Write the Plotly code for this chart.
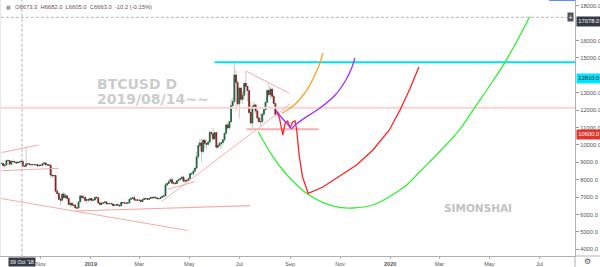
import plotly.graph_objects as go
import pandas as pd

# ---------------- candle data (2-day candles, values in chart-axis units) ----------------
candle_dates = pd.date_range('2018-09-12', periods=169, freq='2D')
first_open = 8764
close = [8930, 8938, 8810, 8850, 9100, 9100, 8890, 9050, 9040, 9010,
         8960, 9010, 9017, 9065, 8780, 8770, 8910, 8920, 8875, 8860,
         8870, 8860, 8860, 8800, 8835, 8825, 8920, 8960, 8845, 8860,
         8830, 8265, 8225, 8240, 7342, 7200, 6870, 6820, 7175, 6970,
         7075, 6925, 6570, 6647, 6530, 6550, 6380, 6370, 6725, 7065,
         6965, 6995, 6805, 6860, 6830, 6915, 6815, 6835, 6985, 6963,
         6670, 6570, 6647, 6680, 6725, 6615, 6625, 6625, 6610, 6515,
         6535, 6568, 6535, 6495, 6695, 6665, 6665, 6650, 6665, 6870,
         6930, 6963, 6835, 6830, 6830, 6820, 6740, 6860, 6925, 6900,
         6870, 6915, 6985, 6955, 6995, 6955, 6910, 6915, 6980, 7042,
         7075, 7700, 7775, 7895, 8000, 7800, 7815, 7775, 7940, 8005,
         8060, 8148, 7910, 7965, 7935, 8070, 8345, 8345, 8495, 8670,
         9317, 9965, 10115, 9617, 10273, 10090, 10028, 10163, 10715, 10645,
         10345, 10708, 9870, 9965, 10083, 10130, 10297, 10668, 11150, 10976,
         11330, 12256, 12493, 14018, 13599, 12360, 13268, 12620, 12850, 13536,
         13362, 13125, 11861, 11253, 12201, 12296, 11956, 11545, 11340, 11332,
         11766, 12019, 12454, 13125, 12888, 13204, 12793, 12382, 11743]
high = [8980, 9017, 8960, 8920, 9150, 9175, 9017, 9096, 9175, 9065,
        9017, 9050, 9050, 9096, 9065, 8810, 9886, 8960, 8940, 8890,
        8900, 8905, 8880, 8860, 8850, 8875, 8940, 9017, 9000, 8890,
        8890, 8845, 8320, 8265, 8243, 7475, 7280, 7040, 7260, 7295,
        7210, 7075, 6940, 6685, 6710, 6570, 6550, 6410, 6725, 7120,
        7120, 7150, 6995, 6870, 6925, 6930, 6945, 6860, 7040, 7050,
        6963, 6680, 6710, 6700, 6740, 6740, 6665, 6665, 6680, 6610,
        6568, 6585, 6575, 6550, 6740, 6710, 6685, 6685, 6685, 6885,
        6963, 6980, 7120, 6870, 6870, 6850, 6830, 6885, 6940, 6940,
        6910, 6945, 7020, 6995, 7020, 7025, 6970, 6955, 7025, 7065,
        7090, 7830, 7830, 7975, 8100, 8115, 7830, 7910, 7960, 8035,
        8110, 8227, 8227, 8045, 7990, 8085, 8400, 8450, 8543, 8685,
        9610, 10200, 10360, 10345, 10330, 10210, 10108, 10280, 10858, 10770,
        10968, 10755, 10740, 10090, 10202, 10130, 10336, 10668, 11180, 11290,
        11387, 12620, 12722, 14768, 14310, 13599, 13283, 13283, 13085, 13552,
        14231, 13362, 13125, 12493, 12296, 12493, 12335, 11940, 11663, 11822,
        11806, 12058, 12485, 13165, 13520, 13338, 13244, 12967, 12390]
low = [8700, 8890, 8740, 8640, 8840, 9017, 8860, 8875, 8940, 8970,
       8910, 8950, 8970, 9000, 8700, 8730, 8770, 8875, 8840, 8835,
       8840, 8840, 8830, 8730, 8780, 8800, 8800, 8860, 8820, 8800,
       8795, 8110, 8070, 8170, 7240, 7185, 6845, 6550, 6725, 6885,
       6940, 6790, 6530, 6385, 6505, 6450, 6330, 6310, 6370, 6725,
       6820, 6900, 6725, 6625, 6710, 6710, 6775, 6765, 6815, 6930,
       6615, 6550, 6560, 6615, 6630, 6560, 6550, 6600, 6585, 6490,
       6505, 6530, 6480, 6475, 6480, 6645, 6625, 6625, 6640, 6655,
       6845, 6885, 6765, 6800, 6725, 6805, 6725, 6735, 6845, 6875,
       6835, 6845, 6900, 6930, 6955, 6925, 6890, 6870, 6910, 6970,
       7035, 7075, 7595, 7753, 7890, 7753, 7700, 7753, 7775, 7910,
       7975, 7960, 7895, 7830, 7890, 7935, 8055, 8243, 8227, 8465,
       8645, 9175, 9807, 9017, 9490, 9807, 9728, 9990, 10115, 10463,
       10186, 10471, 9728, 9790, 9917, 9768, 9965, 10202, 10640, 10890,
       10953, 11324, 12098, 12493, 11940, 12256, 11506, 12493, 12335, 12572,
       12967, 12493, 11782, 11229, 10992, 12019, 11782, 11308, 11308, 11071,
       11229, 11663, 12019, 12414, 12730, 12651, 12635, 12335, 11624]
open_ = [first_open] + close[:-1]
body_hi = [max(o, c) for o, c in zip(open_, close)]
body_lo = [min(o, c) for o, c in zip(open_, close)]

# ---------------- drawn lines ----------------
cyan_x, cyan_y = ['2019-06-01', '2020-09-30'], [14747, 14747]
pinkh_x, pinkh_y = ['2018-09-01', '2020-09-30'], [12138, 12138]
flat_x, flat_y = ['2019-07-10', '2019-10-06'], [10896, 10896]
triup_x, triup_y = ['2019-07-09', '2019-08-31'], [14247, 12965]
rise_x, rise_y = ['2019-03-28', '2019-09-01'], [6736, 12350]
short_x, short_y = ['2019-04-05', '2019-05-08'], [7448, 7885]
base_x, base_y = ['2018-12-13', '2019-07-14'], [6201, 6506]
desc_x, desc_y = ['2018-09-12', '2019-04-29'], [6931, 5080]
leftup_x, leftup_y = ['2018-09-14', '2018-10-29'], [9563, 9994]
leftlo_x, leftlo_y = ['2018-09-14', '2018-11-23'], [8517, 8655]
cross_date = '2018-10-09'
cross_value = 17333

green_x = ['2019-07-24', '2019-08-11', '2019-08-23', '2019-09-05', '2019-09-21',
           '2019-10-11', '2019-10-31', '2019-11-17', '2019-12-11', '2019-12-31',
           '2020-01-21', '2020-02-06', '2020-03-02', '2020-03-26', '2020-04-13',
           '2020-05-02', '2020-05-20', '2020-06-05', '2020-06-19']
green_y = [10758, 9322, 8557, 7885, 7218, 6678, 6414, 6374, 6546, 7023,
           7695, 8460, 9649, 10896, 12138, 13442, 14747, 16086, 17368]
red_x = ['2019-08-15', '2019-08-19', '2019-08-23', '2019-08-26', '2019-08-29',
         '2019-09-01', '2019-09-04', '2019-09-07', '2019-09-09', '2019-09-12',
         '2019-09-16', '2019-09-23', '2019-10-11', '2019-10-31', '2019-11-21',
         '2019-12-11', '2019-12-31', '2020-01-13', '2020-01-25', '2020-02-05']
red_y = [11965, 11546, 10569, 11258, 11373, 10971, 11316, 11373, 10856, 9419,
         8172, 7218, 7580, 8213, 8845, 9707, 10856, 12005, 13213, 14477]
purple_x = ['2019-08-15', '2019-08-20', '2019-08-28', '2019-09-03', '2019-09-07',
            '2019-09-17', '2019-10-07', '2019-10-26', '2019-11-08', '2019-11-15',
            '2019-11-19']
purple_y = [11965, 11661, 11241, 10954, 11143, 11488, 12103, 12868, 13730, 14419, 14994]
orange_x = ['2019-08-22', '2019-09-01', '2019-09-12', '2019-09-24', '2019-10-02',
            '2019-10-07', '2019-10-11']
orange_y = [11816, 12103, 12580, 13345, 14115, 14649, 15281]

# ---------------- axis labels ----------------
x_tickvals = ['2018-11-01', '2019-01-01', '2019-03-01', '2019-05-01', '2019-07-01',
              '2019-09-01', '2019-11-01', '2020-01-01', '2020-03-01', '2020-05-01',
              '2020-07-01']
x_ticktext = ['Nov', '<b>2019</b>', 'Mar', 'May', 'Jul', 'Sep', 'Nov', '<b>2020</b>',
              'Mar', 'May', 'Jul']
y_tickvals = [4000, 5000, 6000, 7000, 8000, 9000, 10000, 11000, 12000, 13000, 15000, 16000, 18000]
price_marks = [17078.0, 13810.0, 10600.0]

FONT = 'Liberation Sans'
fig = go.Figure()


def seg(x, y, color, width, dash='solid', shape='linear'):
    fig.add_trace(go.Scatter(x=x, y=y, mode='lines', line=dict(color=color, width=width, dash=dash, shape=shape),
                             hoverinfo='skip', showlegend=False))


# crosshair
seg([cross_date, cross_date], [3000, 19000], '#a0a0a0', 0.8, dash='3px,2px')
seg(['2018-09-01', '2020-09-30'], [cross_value, cross_value], '#a0a0a0', 0.8, dash='3px,2px')

# pink drawings
seg(pinkh_x, pinkh_y, '#fad2d2', 2)
seg(desc_x, desc_y, '#f6a8a8', 1)
seg(leftup_x, leftup_y, '#f6a8a8', 1)
seg(leftlo_x, leftlo_y, '#f6a8a8', 1)
seg(base_x, base_y, '#f6a8a8', 1.2)
seg(rise_x, rise_y, '#f6b0b0', 1)
seg(short_x, short_y, '#f6a8a8', 1)
seg(triup_x, triup_y, '#f6a8a8', 1)
seg(flat_x, flat_y, '#f5b0b0', 2)

# candles: gray wicks + coloured bodies
fig.add_trace(go.Candlestick(
    x=candle_dates, open=open_, high=high, low=low, close=close,
    increasing=dict(line=dict(color='#bdbdbd', width=0.8), fillcolor='#bdbdbd'),
    decreasing=dict(line=dict(color='#bdbdbd', width=0.8), fillcolor='#bdbdbd'),
    whiskerwidth=0, showlegend=False, hoverinfo='skip'))
fig.add_trace(go.Candlestick(
    x=candle_dates, open=open_, high=body_hi, low=body_lo, close=close,
    increasing=dict(line=dict(color='#1c6239', width=0.8), fillcolor='#236f43'),
    decreasing=dict(line=dict(color='#841c1c', width=0.8), fillcolor='#952222'),
    whiskerwidth=0, showlegend=False, hoverinfo='skip'))

seg(cyan_x, cyan_y, '#00e2f0', 2)

# projection curves
seg(green_x, green_y, '#33ee33', 1.3, shape='spline')
seg(red_x, red_y, '#ff2222', 1.3)
seg(purple_x, purple_y, '#a030f5', 1.3, shape='spline')
seg(orange_x, orange_y, '#ffa020', 1.3, shape='spline')

annotations = [
    dict(text='BTCUSD D', xref='paper', yref='paper', x=95 / 575, y=1 - 84.3 / 256,
         xanchor='left', yanchor='middle', showarrow=False,
         font=dict(family='DejaVu Sans', size=14, color='#cccccc', weight='bold')),
    dict(text='2019/08/14~~', xref='paper', yref='paper', x=95 / 575, y=1 - 98.7 / 256,
         xanchor='left', yanchor='middle', showarrow=False,
         font=dict(family='DejaVu Sans', size=14, color='#cccccc', weight='bold')),
    dict(text='SIMONSHAI', xref='paper', yref='paper', x=478 / 575, y=1 - 208.3 / 256,
         xanchor='center', yanchor='middle', showarrow=False,
         font=dict(family='DejaVu Sans', size=10.5, color='#c2c2c2', weight='bold')),
    dict(text='O6673.3\u00a0\u00a0H6682.0\u00a0\u00a0L6605.0\u00a0\u00a0C6663.0\u00a0\u00a0-10.2 (-0.15%)',
         xref='paper', yref='paper', x=12.5 / 575, y=1 - 6.7 / 256, xanchor='left', yanchor='middle',
         showarrow=False, font=dict(family=FONT, size=5.8, color='#6a5252')),
    dict(text='\u25a0', xref='paper', yref='paper', x=8.5 / 575, y=1 - 6.7 / 256, xanchor='center',
         yanchor='middle', showarrow=False, font=dict(family='DejaVu Sans', size=5, color='#9aa0aa')),
    dict(text="09 Oct '18", xref='x', yref='paper', x=cross_date, y=0, xanchor='center', yanchor='top',
         yshift=-0.5, showarrow=False, bgcolor='#363a45', borderpad=1.2,
         font=dict(family=FONT, size=5.2, color='white')),
    dict(text='+', xref='paper', yref='y', x=1, y=cross_value, xanchor='right', yanchor='middle', xshift=-1,
         showarrow=False, bgcolor='#50535e', borderpad=0.5, font=dict(family=FONT, size=7, color='white')),
    dict(text='\u2699', xref='paper', yref='paper', x=1, y=0, xanchor='center', yanchor='middle',
         xshift=12, yshift=-5.5, showarrow=False, font=dict(family='DejaVu Sans', size=8, color='#555555')),
]
mark_styles = [('#363a45', 'white'), ('#00e5ff', '#1a1a1a'), ('#e0352b', 'white')]
for val, (bg, fc) in zip(price_marks, mark_styles):
    annotations.append(dict(text=f'{val:.1f}', xref='paper', yref='y', x=1, y=val, xanchor='left',
                            yanchor='middle', xshift=1, showarrow=False, bgcolor=bg, borderpad=1.3,
                            font=dict(family=FONT, size=5.8, color=fc)))

shapes = [
    dict(type='line', xref='paper', yref='paper', x0=1, x1=1, y0=-0.05, y1=0,
         line=dict(color='#b0b0b0', width=1)),
    dict(type='line', xref='paper', yref='paper', x0=1, x1=1.05, y0=0, y1=0,
         line=dict(color='#b0b0b0', width=1)),
    dict(type='line', xref='paper', yref='paper', x0=0.955, x1=1, y0=1, y1=1,
         line=dict(color='#2962ff', width=1.5)),
    dict(type='line', xref='paper', yref='paper', x0=0.001, x1=0.001, y0=0, y1=1,
         line=dict(color='#e2e8f0', width=1)),
]

fig.update_layout(
    width=600, height=267, margin=dict(l=0, r=25, t=0, b=11),
    paper_bgcolor='white', plot_bgcolor='white', showlegend=False,
    annotations=annotations, shapes=shapes,
    xaxis=dict(range=['2018-09-12 04:48', '2020-08-13 09:36'], rangeslider=dict(visible=False),
               showgrid=False, zeroline=False, showline=True, linecolor='#b0b0b0', linewidth=1,
               ticks='outside', ticklen=2, tickcolor='#b0b0b0', tickvals=x_tickvals, ticktext=x_ticktext,
               tickfont=dict(family=FONT, size=5.5, color='#555555'), ticklabelstandoff=0),
    yaxis=dict(side='right', range=[3615, 18327], showgrid=False, zeroline=False, showline=True,
               linecolor='#b0b0b0', linewidth=1, ticks='outside', ticklen=3, tickcolor='#999999',
               tickvals=y_tickvals, tickformat='.1f', ticklabelstandoff=0,
               tickfont=dict(family=FONT, size=5.8, color='#555555')),
)

fig.write_html('out.html')
